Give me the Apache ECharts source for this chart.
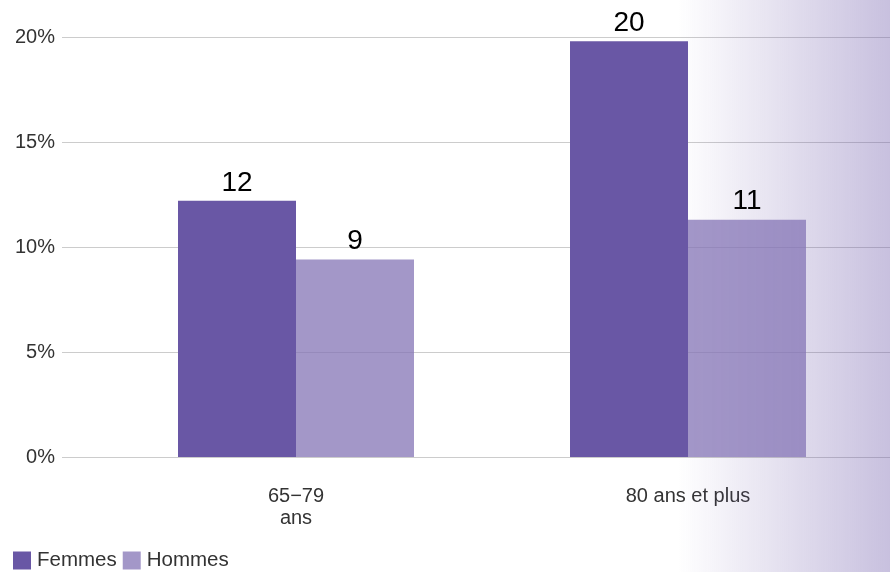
<!DOCTYPE html>
<html>
<head>
<meta charset="utf-8">
<script src="https://cdn.jsdelivr.net/npm/echarts@6/dist/echarts.min.js"></script>
<style>
html,body{margin:0;padding:0;background:#fff;}
#chart{width:890px;height:572px;}
</style>
</head>
<body>
<div id="chart"></div>
<script>
const categories = ['65−79 ans', '80 ans et plus'];
const categoryLabels = ['65−79\nans', '80 ans et plus'];
const femmes = [12.2, 19.8];
const hommes = [9.4, 11.3];
const yTicks = [0, 5, 10, 15, 20];

const FONT = '"Liberation Sans", Arial, sans-serif';
const chart = echarts.init(document.getElementById('chart'));

const barLabel = {
  show: true, position: 'top', distance: 4,
  fontFamily: FONT, fontSize: 28, color: '#000',
  formatter: p => Math.round(p.value)
};

chart.setOption({
  animation: false,
  textStyle: { fontFamily: FONT },
  graphic: [{
    type: 'rect', z: 1, silent: true,
    shape: { x: 678, y: 0, width: 212, height: 572 },
    style: {
      fill: new echarts.graphic.LinearGradient(0, 0, 1, 0, [
        { offset: 0, color: 'rgba(110,90,170,0)' },
        { offset: 1, color: 'rgba(110,90,170,0.38)' }
      ])
    }
  }],
  legend: {
    left: 13, top: 550, padding: 0, itemGap: 6,
    itemWidth: 18, itemHeight: 18, icon: 'rect',
    textStyle: { fontFamily: FONT, fontSize: 20.5, color: '#333', padding: [0, 0, 0, 1] },
    data: ['Femmes', { name: 'Hommes', itemStyle: { color: '#a397c8' } }]
  },
  grid: [
    { left: 100, right: 6, top: 37, bottom: 115 },
    { left: 62, right: 0, top: 37, bottom: 115 }
  ],
  xAxis: [
    {
      type: 'category', gridIndex: 0, data: categories,
      axisLine: { show: false }, axisTick: { show: false },
      axisLabel: {
        margin: 28, fontFamily: FONT, fontSize: 20, lineHeight: 22, color: '#333',
        formatter: (v, i) => categoryLabels[i]
      }
    },
    { type: 'value', gridIndex: 1, show: false, min: 0, max: 1 }
  ],
  yAxis: [
    { type: 'value', gridIndex: 0, min: 0, max: 20, interval: 5, show: false },
    {
      type: 'value', gridIndex: 1, min: yTicks[0], max: yTicks[yTicks.length - 1], interval: 5,
      axisLine: { show: false }, axisTick: { show: false },
      splitLine: { lineStyle: { color: '#cccccc', width: 1 } },
      axisLabel: {
        margin: 7, fontFamily: FONT, fontSize: 20, color: '#333',
        formatter: v => v + '%'
      }
    }
  ],
  series: [
    {
      name: 'Femmes', type: 'bar', xAxisIndex: 0, yAxisIndex: 0,
      data: femmes, barWidth: 118, barGap: '0%',
      itemStyle: { color: '#6957a5' }, label: barLabel
    },
    {
      name: 'Hommes', type: 'bar', xAxisIndex: 0, yAxisIndex: 0,
      data: hommes, barWidth: 118, barGap: '0%',
      itemStyle: { color: 'rgba(132,116,182,0.75)' }, label: barLabel
    }
  ]
});
</script>
</body>
</html>
